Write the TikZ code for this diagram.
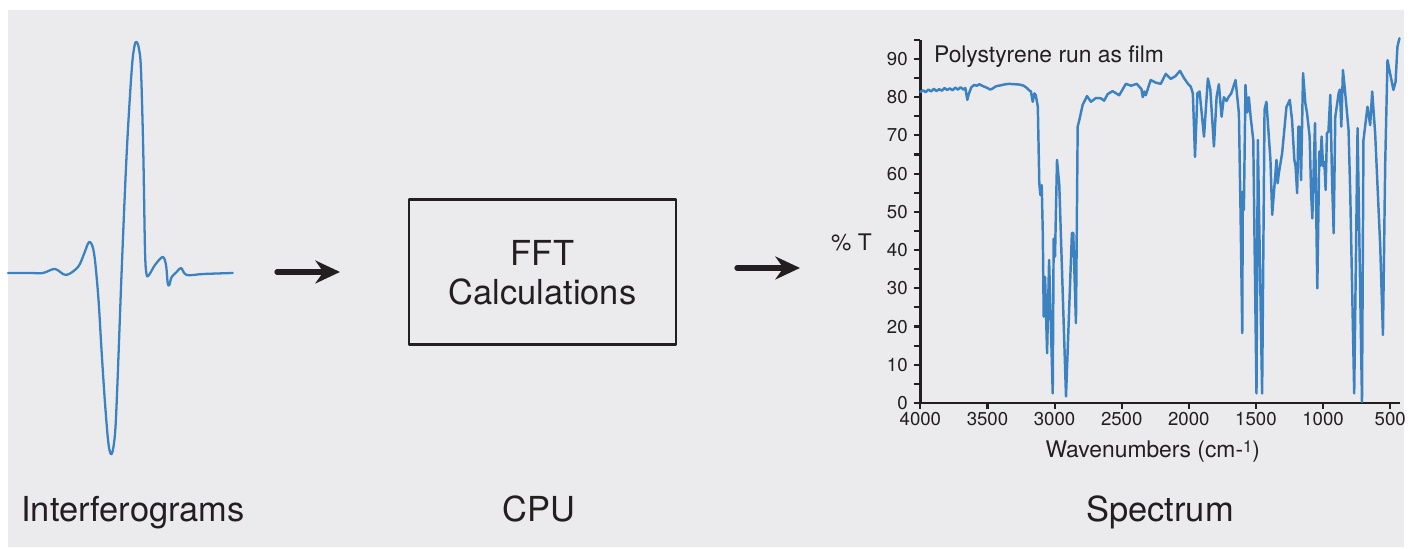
\documentclass[tikz,border=0pt]{standalone}
\usepackage{fontspec}
\setmainfont{TeX Gyre Heros}
\usetikzlibrary{arrows.meta}
\definecolor{bgGray}{RGB}{235,235,238}
\definecolor{lineBlue}{RGB}{60,130,192}
\definecolor{inkDark}{RGB}{35,31,32}

\begin{document}
\begin{tikzpicture}[>={Stealth[length=7pt,width=6.5pt]}, line cap=round, line join=round,
  curve/.style={lineBlue, line width=0.65pt},
  bigtext/.style={text=inkDark, font=\fontsize{9.8}{11.1}\selectfont},
  axtext/.style={text=inkDark, font=\fontsize{6.5}{7.5}\selectfont, inner sep=0pt},
  ticktext/.style={text=inkDark, font=\fontsize{5.3}{6}\selectfont, inner sep=0pt},
  flow/.style={->, line width=1.5pt, inkDark}]
% 背景
\useasboundingbox (0,0) rectangle (14.16,5.49);
\fill[bgGray] (0.08,0.02) rectangle (14.04,5.39);
% 干涉图
\draw[curve] plot[smooth, tension=0.55] coordinates {(0.08,2.76) (0.30,2.76) (0.43,2.76)
  (0.55,2.80) (0.66,2.74) (0.78,2.82) (0.84,2.95) (0.893,3.07) (0.94,2.96) (0.983,2.52)
  (1.017,1.96) (1.05,1.46) (1.085,1.05) (1.117,0.95) (1.15,1.15) (1.173,1.62) (1.217,2.79)
  (1.267,3.96) (1.317,4.79) (1.345,5.03) (1.367,5.07) (1.39,5.00) (1.41,4.79) (1.433,3.96)
  (1.45,2.99) (1.465,2.75) (1.49,2.74) (1.55,2.84) (1.627,2.92) (1.66,2.84) (1.677,2.66)
  (1.693,2.64) (1.717,2.72) (1.767,2.77) (1.81,2.81) (1.867,2.74) (2.033,2.75) (2.327,2.76)};
% CPU 方框与箭头
\node[draw=inkDark, line width=0.85pt, minimum width=2.67cm, minimum height=1.45cm,
  align=center, bigtext] (fftbox) at (5.425,2.765) {FFT\\Calculations};
\coordinate (inA) at (2.77,2.77);
\coordinate (inB) at (3.40,2.77);
\coordinate (outA) at (7.37,2.81);
\coordinate (outB) at (8.00,2.81);
\draw[flow] (inA) -- (inB);
\draw[flow] (outA) -- (outB);
% 光谱
\begin{scope}[shift={(14.573,1.46)}, x=-0.0013457cm, y=0.03822cm]
  \draw[inkDark, line width=0.75pt, line cap=butt] (4000,95) -- (4000,0) -- (426,0);
  \foreach \t in {0,5,...,95}
    \draw[inkDark, line width=0.6pt, line cap=butt] (4000,\t) -- ++(-1.8pt,0pt);
  \foreach \t in {0,10,...,90}
    \node[ticktext, anchor=east, xshift=-0.12cm] (ytick\t) at (4000,\t) {\t};
  \foreach \w in {4000,3500,...,500}{
    \draw[inkDark, line width=0.6pt, line cap=butt] (\w,0) -- ++(0pt,-1.8pt);
    \node[ticktext, anchor=north, yshift=-0.09cm] (xtick\w) at (\w,0) {\w};
  }
  \draw[curve, line width=0.7pt] plot coordinates {(4000,81.4) (3980,81.8) (3960,81.3)
    (3940,82.0) (3920,81.5) (3900,82.2) (3880,81.6) (3860,82.1) (3840,81.7) (3820,82.4)
    (3800,81.9) (3780,82.3) (3760,81.8) (3740,82.5) (3720,82.0) (3700,82.6) (3680,82.0)
    (3665,82.4) (3650,79.3) (3640,80.8) (3620,82.6) (3600,83.2) (3580,83.0) (3560,83.4)
    (3540,83.0) (3520,82.7) (3500,82.4) (3480,82.0) (3460,82.3) (3440,82.8) (3420,83.0)
    (3400,83.1) (3380,83.3) (3360,83.4) (3340,83.5) (3300,83.4) (3260,83.3) (3230,83.0)
    (3210,82.5) (3190,81.8) (3176,81.5) (3163,78.8) (3150,81.0) (3140,80.5) (3125,77.5)
    (3114,57.5) (3106,54.4) (3096,57) (3088,44.5) (3081,22.6) (3071,33) (3056,13)
    (3041,37.4) (3014,2.5) (3007,43) (2997,38.3) (2982,63.6) (2965,57) (2915,1.7)
    (2871,44.5) (2861,44.5) (2841,20.9) (2828,72.3) (2816,74) (2791,78) (2759,80.3)
    (2729,78.8) (2692,79.8) (2655,79.7) (2631,79.1) (2605,80.8) (2568,81.6) (2519,80.5)
    (2469,83.5) (2430,83) (2388,83.5) (2353,82.1) (2343,80) (2332,81.5) (2321,80.5)
    (2284,84.5) (2246,83.8) (2209,83.5) (2172,86.1) (2135,84.8) (2100,85.5) (2066,86.9)
    (2036,85) (2006,83.5) (1986,82.8) (1970,81) (1954,64.4) (1936,81) (1920,81.5)
    (1887,69.7) (1858,84.9) (1840,82) (1813,67.1) (1793,80.1) (1776,83.4) (1756,74.9)
    (1739,80) (1719,79) (1705,80) (1684,81) (1652,84.5) (1627,75.8) (1615,50.5)
    (1602,18.3) (1598,55.3) (1590,50.5) (1578,83.2) (1565,76) (1553,80) (1540,75)
    (1520,68.8) (1496,2.5) (1486,68.8) (1454,2.5) (1436,76.7) (1422,78.8) (1392,63.6)
    (1379,49.2) (1347,63.6) (1338,57.5) (1330,60) (1305,65.3) (1273,77.4) (1248,79.3)
    (1231,74) (1214,63.6) (1205,62) (1193,54.9) (1184,72.3) (1175,72.3) (1164,58.3)
    (1149,86.3) (1132,78.4) (1120,76) (1100,69.7) (1089,54.9) (1080,48.3) (1060,73.2)
    (1043,30) (1028,65.8) (1020,62) (1011,69.7) (1000,62) (990,63) (981,55.7) (971,70.6)
    (960,71) (946,80.6) (933,58.3) (921,44.4) (909,74.9) (884,81) (875,82) (864,72.3)
    (852,87.1) (835,81.1) (810,71.4) (797,54) (768,2.5) (743,71.9) (710,0.3) (699,68.8)
    (669,77.5) (649,72.7) (634,81.5) (612,70.6) (574,40.9) (554,17.8) (537,62.7)
    (520,89.7) (505,87) (476,81.9) (460,84) (446,93.2) (431,95.4)};
  \node[axtext, anchor=west] (title) at (3903,90.5) {Polystyrene run as film};
  \node[axtext] (ylab) at (4513,41.9) {\% T};
  \node[axtext] (xlab) at (2269,-12.6)
    {Wavenumbers (cm-\raisebox{0.35ex}{\fontsize{4.7}{5}\selectfont 1})};
\end{scope}
% 标注
\node[bigtext, anchor=base] (lblIgram) at (1.33,0.27) {Interferograms};
\node[bigtext, anchor=base] (lblCpu) at (5.39,0.27) {CPU};
\node[bigtext, anchor=base] (lblSpec) at (11.60,0.27) {Spectrum};
\end{tikzpicture}
\end{document}
